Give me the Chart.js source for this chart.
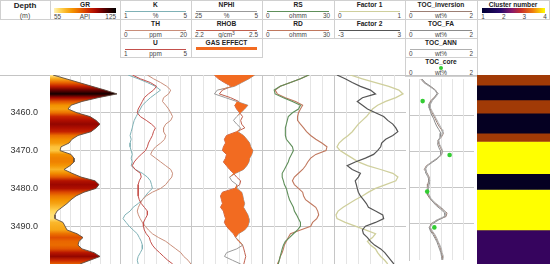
<!DOCTYPE html>
<html><head><meta charset="utf-8">
<script src="https://cdn.jsdelivr.net/npm/chart.js@4.4.1/dist/chart.umd.min.js"></script>
<style>
html,body{margin:0;padding:0;background:#fff}
body{width:550px;height:265px;position:relative;overflow:hidden;font-family:"Liberation Sans",Arial,sans-serif;color:#222}
canvas{position:absolute;top:75px}
.t{position:absolute;white-space:nowrap;line-height:1;transform:translate(-50%,-50%)}
.b{font-weight:bold;font-size:6.6px;color:#222}
.s{font-size:6.4px;color:#444}
.box{position:absolute;border:1px solid #d0d0d0;box-sizing:border-box}
.ln{position:absolute}
sup{font-size:5px;vertical-align:2px}
</style></head><body>
<div id="hdr"></div>
<canvas id="cGR" width="120" height="189" style="left:0px"></canvas>
<canvas id="cK" width="72" height="189" style="left:120px"></canvas>
<canvas id="cN" width="72" height="189" style="left:191px"></canvas>
<canvas id="cR" width="73" height="189" style="left:262px"></canvas>
<canvas id="cF" width="72" height="189" style="left:334px"></canvas>
<canvas id="cT" width="73" height="189" style="left:405px"></canvas>
<canvas id="cC" width="73" height="189" style="left:477px"></canvas>
<script>
// ---------------- data ----------------
const DEPTH = [3450,3451,3452,3453,3454,3455,3456,3457,3458,3459,3460,3461,3462,3463,3464,3465,3466,3467,3468,3469,3470,3471,3472,3473,3474,3475,3476,3477,3478,3479,3480,3481,3482,3483,3484,3485,3486,3487,3488,3489,3490,3491,3492,3493,3494,3495,3496,3497,3498,3499,3500];
const DEPTH_TICKS = [3460,3470,3480,3490];
const GR = [58,71,84,97,110,122,103,87,76,73,82,95,101,105,101,96,83,77,74,66,65,76,79,79,75,69,77,86,100,104,101,89,81,76,72,67,62,60,60,68,70,72,82,88,84,83,87,99,105,95,85];
const K = [1.45,2.01,2.52,2.97,3.25,2.97,2.69,2.46,2.24,2.13,2.01,1.90,1.79,1.73,1.68,1.62,1.56,1.62,1.56,1.56,1.62,1.68,1.62,1.68,1.62,1.85,2.24,2.52,2.69,2.75,2.80,2.58,2.41,2.24,2.01,1.73,1.56,1.28,1.17,1.34,1.51,1.73,1.96,2.07,2.18,2.24,2.24,2.13,2.01,1.96,2.01];
const TH = [7.6,9.3,11.3,13.0,14.1,13.5,12.1,11.8,12.7,13.5,14.1,14.6,14.1,12.7,12.1,12.1,12.7,12.4,11.3,9.9,9.0,8.5,9.9,11.3,12.7,14.1,14.6,14.4,13.5,12.7,11.3,9.0,7.3,6.2,5.6,5.1,4.8,5.1,5.6,6.2,7.0,7.9,9.0,10.7,12.7,14.1,15.5,16.9,17.7,18.9,19.7];
const U = [1.68,2.13,2.69,3.03,2.86,2.58,2.35,2.24,2.13,2.01,1.96,2.13,2.46,2.75,2.97,2.86,2.80,2.69,2.58,2.52,2.41,2.18,1.96,1.79,1.68,1.85,2.13,2.18,2.07,2.01,2.01,2.01,2.01,2.07,2.18,2.35,2.52,2.52,2.41,2.30,2.30,2.35,2.46,2.63,2.69,2.80,2.97,3.20,3.42,3.65,3.93];
const NPHI = [7.3,8.9,10.9,12.9,17.7,18.5,15.4,12.3,9.2,10.1,11.2,12.3,13.2,12.3,11.2,12.0,10.4,9.5,8.7,8.4,7.8,8.1,8.7,8.9,9.5,10.4,12.6,14.3,13.7,12.3,12.3,10.9,10.6,10.4,10.1,10.4,9.8,9.2,8.9,8.9,9.2,10.1,11.8,12.6,11.5,10.6,12.3,15.1,15.7,13.5,11.2];
const RHOB = [2.297,2.314,2.339,2.369,2.331,2.318,2.365,2.399,2.382,2.390,2.403,2.415,2.407,2.411,2.424,2.390,2.348,2.339,2.344,2.335,2.331,2.348,2.344,2.335,2.348,2.361,2.377,2.390,2.407,2.403,2.382,2.331,2.323,2.327,2.331,2.323,2.335,2.339,2.344,2.339,2.348,2.361,2.377,2.386,2.399,2.415,2.420,2.424,2.428,2.424,2.420];
const RS = [19.2,15.8,11.7,7.5,5.0,5.4,8.8,12.5,15.8,15.0,12.5,10.8,10.4,10.0,9.6,9.6,9.6,10.0,11.3,12.5,12.9,12.1,11.3,10.8,10.0,9.2,8.3,8.3,8.8,9.2,10.0,10.4,10.8,11.3,12.1,12.9,13.3,14.2,15.0,15.8,15.8,14.6,12.9,11.3,9.6,8.8,8.3,7.9,7.5,7.1,6.7];
const RD = [19.2,15.8,11.7,7.5,5.4,6.3,9.6,13.8,16.7,15.8,15.0,14.6,14.6,15.8,17.1,18.3,20.0,22.1,24.6,26.7,26.3,22.1,20.0,18.8,17.9,16.7,15.0,13.3,12.5,13.3,15.0,16.7,17.1,17.9,20.0,22.1,22.9,23.3,22.5,20.8,20.0,15.8,11.7,10.8,10.0,9.2,8.8,8.3,7.5,7.1,6.3];
const FACTOR1 = [0.225,0.394,0.577,0.761,0.901,0.958,0.859,0.718,0.606,0.535,0.493,0.451,0.394,0.338,0.296,0.254,0.197,0.127,0.070,0.042,0.085,0.169,0.254,0.338,0.465,0.648,0.817,0.887,0.859,0.718,0.577,0.479,0.394,0.296,0.211,0.127,0.056,0.028,0.042,0.155,0.296,0.437,0.577,0.535,0.465,0.507,0.577,0.606,0.648,0.704,0.746];
const FACTOR2 = [-2.75,-2.07,-1.48,-0.80,0.04,0.46,-0.63,-1.06,-0.63,-0.21,0.46,1.14,1.48,1.90,2.15,2.32,1.90,1.31,0.97,0.89,0.63,0.30,-0.38,-1.23,-1.90,-1.48,-0.80,-0.97,-1.23,-1.14,-1.06,-0.97,-0.80,-0.55,-0.30,-0.13,0.46,1.06,1.14,0.46,-0.38,-0.63,-0.55,-0.21,0.04,0.38,0.89,1.23,1.48,1.73,1.99];
const TOC_INV = [0.36,0.47,0.64,0.81,0.89,0.78,0.67,0.61,0.64,0.69,0.75,0.81,0.86,0.92,1.00,1.06,1.00,0.89,0.92,0.97,1.03,1.00,0.86,0.69,0.53,0.47,0.56,0.61,0.61,0.58,0.56,0.56,0.58,0.64,0.75,0.89,1.03,1.17,1.14,0.86,0.67,0.64,0.69,0.78,0.83,0.89,0.94,0.97,1.00,1.03,1.03];
const TOC_FA = [0.40,0.50,0.66,0.80,0.86,0.80,0.70,0.64,0.62,0.66,0.70,0.76,0.80,0.85,0.92,0.98,0.96,0.90,0.88,0.92,0.98,0.97,0.88,0.72,0.56,0.50,0.52,0.58,0.62,0.62,0.60,0.58,0.60,0.66,0.74,0.84,0.98,1.10,1.10,0.90,0.72,0.62,0.66,0.74,0.80,0.86,0.90,0.94,0.98,1.00,1.02];
const TOC_ANN = [0.38,0.45,0.62,0.78,0.90,0.82,0.72,0.66,0.66,0.72,0.78,0.84,0.90,0.96,1.02,1.04,0.98,0.92,0.94,1.00,1.04,0.98,0.84,0.68,0.55,0.49,0.54,0.60,0.64,0.60,0.58,0.58,0.62,0.68,0.78,0.92,1.06,1.14,1.08,0.84,0.70,0.66,0.72,0.80,0.86,0.90,0.96,1.00,1.02,1.06,1.04];
const CORE_DEPTH = [3456.1,3471.0,3481.1,3491.0];
const TOC_CORE = [0.42,1.25,0.56,0.78];
const CLUSTER_TOP  = [3450,3452.7,3456.6,3460.1,3465.4,3467.6,3476.1,3480.3,3491.0];
const CLUSTER_BASE = [3452.7,3456.6,3460.1,3465.4,3467.6,3476.1,3480.3,3491.0,3500];
const CLUSTER_ID   = [3,1,3,1,3,4,1,4,2];
const CLUSTER_TICKS = [1,2,3,4];
// axis ranges (header scale labels)
const GR_RANGE=[55,125], K_RANGE=[1,5], TH_RANGE=[0,20], U_RANGE=[1,5], NPHI_RANGE=[25,5], RHOB_RANGE=[2.2,2.5];
const RS_RANGE=[0,30], RD_RANGE=[0,30], F1_RANGE=[0,1], F2_RANGE=[-3,3], TOC_RANGE=[0,2];

// ---------------- styles ----------------
const COL = {K:'#7fb1b6',TH:'#c98e7a',U:'#c4504c',NPHI:'#9a9a9a',RHOB:'#c0604e',RS:'#5f8f5a',RD:'#c0785e',
  F1:'#cfcf9c',F2:'#555555',TINV:'#9c7f74',TFA:'#8c8c8c',TANN:'#b0b0b0',CORE:'#33cc33',GAS:'#f26b21'};
const CLUSTER_COLORS = {1:'#050022',2:'#36045e',3:'#a13a06',4:'#ffff00'};
const GR_STOPS = [[0,'#fff4b8'],[0.1,'#ffd659'],[0.2,'#f9b224'],[0.3,'#f39200'],[0.42,'#e86400'],[0.55,'#d02c00'],[0.68,'#a80800'],[0.8,'#600000'],[0.9,'#2c0000'],[1,'#000000']];

function hex(c){return [1,3,5].map(i=>parseInt(c.substr(i,2),16));}
function grColor(v){
  let t=(v-GR_RANGE[0])/(GR_RANGE[1]-GR_RANGE[0]); t=Math.max(0,Math.min(1,t));
  for(let i=1;i<GR_STOPS.length;i++){
    if(t<=GR_STOPS[i][0]){
      const a=GR_STOPS[i-1],b=GR_STOPS[i],f=(t-a[0])/(b[0]-a[0]);
      const ca=hex(a[1]),cb=hex(b[1]);
      return 'rgb('+ca.map((x,j)=>Math.round(x+(cb[j]-x)*f)).join(',')+')';
    }
  }
  return '#000';
}

// ---------------- header ----------------
const hdr=document.getElementById('hdr');
function el(cls,css,html){const d=document.createElement('div');d.className=cls;Object.assign(d.style,css);if(html!==undefined)d.innerHTML=html;hdr.appendChild(d);return d;}
function txt(html,x,y,cls,al){const d=el('t '+cls,{left:x+'px',top:y+'px'},html);
  if(al==='l')d.style.transform='translate(0,-50%)';if(al==='r')d.style.transform='translate(-100%,-50%)';return d;}
const ROW_H=19;
function cell(x,w,row,title,color,range,unit,opt){
  const top=row*ROW_H;
  el('box',{left:x+'px',top:top+'px',width:(w+1)+'px',height:(ROW_H+1)+'px'});
  txt(title,x+w/2,top+5,'b');
  if(opt==='dot'){el('ln',{left:(x+w/2-2)+'px',top:(top+9)+'px',width:'4px',height:'4px',background:color,borderRadius:'50%'});}
  else if(opt==='bar'){el('ln',{left:(x+5)+'px',top:(top+9)+'px',width:(w-10)+'px',height:'3px',background:color});return;}
  else el('ln',{left:(x+5)+'px',top:(top+10.5)+'px',width:(w-10)+'px',height:'1.3px',background:color});
  txt(String(range[0]),x+4,top+15.5,'s','l');txt(unit,x+w/2,top+15.5,'s');txt(String(range[1]),x+w-4,top+15.5,'s','r');
}
// depth + GR
el('box',{left:'0px',top:'0px',width:'51px',height:'20px'});
txt('Depth',25,6,'b').style.fontSize='8px';
txt('(m)',25,15,'s').style.fontSize='7px';
el('box',{left:'50px',top:'0px',width:'71px',height:'20px'});
txt('GR',85,4.5,'b');
el('ln',{left:'54px',top:'8px',width:'62px',height:'5px',background:'linear-gradient(to right,'+GR_STOPS.map(s=>s[1]+' '+(s[0]*100)+'%').join(',')+')'});
txt(String(GR_RANGE[0]),54,16.5,'s','l');txt('API',85,16.5,'s');txt(String(GR_RANGE[1]),116,16.5,'s','r');
// K/TH/U
cell(120,71,0,'K',COL.K,K_RANGE,'%');
cell(120,71,1,'TH',COL.TH,TH_RANGE,'ppm');
cell(120,71,2,'U',COL.U,U_RANGE,'ppm');
// NPHI/RHOB
cell(191,71,0,'NPHI',COL.NPHI,NPHI_RANGE,'%');
cell(191,71,1,'RHOB',COL.RHOB,RHOB_RANGE,'g/cm<sup>3</sup>');
cell(191,71,2,'GAS EFFECT',COL.GAS,null,null,'bar');
// RS/RD
cell(262,72,0,'RS',COL.RS,RS_RANGE,'ohmm');
cell(262,72,1,'RD',COL.RD,RD_RANGE,'ohmm');
// factors
cell(334,71,0,'Factor 1',COL.F1,F1_RANGE,'');
cell(334,71,1,'Factor 2',COL.F2,F2_RANGE,'');
// TOC
cell(405,72,0,'TOC_inversion',COL.TINV,TOC_RANGE,'wt%');
cell(405,72,1,'TOC_FA',COL.TFA,TOC_RANGE,'wt%');
cell(405,72,2,'TOC_ANN',COL.TANN,TOC_RANGE,'wt%');
cell(405,72,3,'TOC_core',COL.CORE,TOC_RANGE,'wt%','dot');
// cluster
el('box',{left:'477px',top:'0px',width:'73px',height:'20px'});
txt('Cluster number',513,4.5,'b');
el('ln',{left:'482px',top:'8px',width:'63px',height:'5px',background:'linear-gradient(to right,#000033 0%,#2a0a6e 30%,#8a1a6a 48%,#c8302a 62%,#ee7a10 80%,#ffff00 100%)'});
CLUSTER_TICKS.forEach((v,i)=>txt(String(v),483+i*20.7,16.5,'s'));
// top line of data area
el('ln',{left:'0px',top:'74.5px',width:'550px',height:'1px',background:'#c4c4c4'});

// ---------------- charts ----------------
Chart.defaults.font.family='"Liberation Sans", Arial, sans-serif';
function depthScale(labels){
  return {type:'linear',axis:'y',min:3450,max:3500,reverse:true,
    afterBuildTicks:s=>{s.ticks=DEPTH_TICKS.map(v=>({value:v}));},
    afterFit:s=>{s.width=labels?50:0;s.paddingTop=0;s.paddingBottom=0;},
    grid:{color:'#c6c6c6',lineWidth:1,drawTicks:false},
    border:{display:true,color:'#c6c6c6'},
    ticks:{display:labels,padding:12,color:'#333',font:{size:9},callback:v=>Number(v).toFixed(1)}};
}
function gridScale(n){
  return {type:'linear',axis:'x',position:'top',min:0,max:n,
    afterBuildTicks:s=>{const t=[];for(let i=1;i<n;i++)t.push({value:i});s.ticks=t;},
    afterFit:s=>{s.height=0;s.paddingLeft=0;s.paddingRight=0;},
    grid:{color:'#e4e4e4',drawTicks:false},border:{display:false},ticks:{display:false}};
}
function valScale(r){const rev=r[0]>r[1];return {type:'linear',axis:'x',display:false,min:Math.min(r[0],r[1]),max:Math.max(r[0],r[1]),reverse:rev};}
function curve(vals,axis,color,w,extra){
  return Object.assign({data:DEPTH.map((d,i)=>({x:vals[i],y:d})),xAxisID:axis,yAxisID:'y',borderColor:color,
    borderWidth:w||1,pointRadius:0,fill:false,tension:0},extra||{});
}
function mk(id,datasets,scales,labels,n,type){
  const s=Object.assign({y:depthScale(labels),g:gridScale(n)},scales);
  return new Chart(document.getElementById(id),{type:type||'line',data:{labels:type==='bar'?['c']:undefined,datasets},
    options:{indexAxis:type==='bar'?'x':'y',responsive:false,animation:false,devicePixelRatio:1,events:[],
      layout:{padding:0},plugins:{legend:{display:false},tooltip:{enabled:false}},scales:s}});
}
// GR
mk('cGR',[curve(GR,'xg','#5a4a40',0.9,{fill:{value:GR_RANGE[0]},
  backgroundColor:(ctx)=>{const ch=ctx.chart,a=ch.chartArea;if(!a)return 'rgba(0,0,0,0)';
    const ys=ch.scales.y;const g=ch.ctx.createLinearGradient(0,a.top,0,a.bottom);
    DEPTH.forEach((d,i)=>{const o=(ys.getPixelForValue(d)-a.top)/(a.bottom-a.top);g.addColorStop(Math.max(0,Math.min(1,o)),grColor(GR[i]));});
    return g;}})],{xg:valScale(GR_RANGE)},true,7);
// K TH U
mk('cK',[curve(U,'xu',COL.U,1),curve(TH,'xt',COL.TH,1),curve(K,'xk',COL.K,1)],
  {xk:valScale(K_RANGE),xt:valScale(TH_RANGE),xu:valScale(U_RANGE)},false,6);
// NPHI RHOB gas: orange where RHOB plots left of NPHI (crossover)
const RHOB_AS_NPHI = RHOB.map(r=>NPHI_RANGE[0]+(r-RHOB_RANGE[0])/(RHOB_RANGE[1]-RHOB_RANGE[0])*(NPHI_RANGE[1]-NPHI_RANGE[0]));
const GAS_EDGE = NPHI.map((n,i)=>Math.max(n,RHOB_AS_NPHI[i]));
mk('cN',[curve(GAS_EDGE,'xn','rgba(0,0,0,0)',1,{fill:'+1',backgroundColor:COL.GAS}),
  curve(NPHI,'xn',COL.NPHI,1),curve(RHOB,'xr',COL.RHOB,1)],
  {xn:valScale(NPHI_RANGE),xr:valScale(RHOB_RANGE)},false,6);
// RS RD
mk('cR',[curve(RS,'xs',COL.RS,1.1),curve(RD,'xd',COL.RD,1.1)],{xs:valScale(RS_RANGE),xd:valScale(RD_RANGE)},false,6);
// Factors
mk('cF',[curve(FACTOR2,'x2',COL.F2,1.2),curve(FACTOR1,'x1',COL.F1,1.3)],{x1:valScale(F1_RANGE),x2:valScale(F2_RANGE)},false,6);
// TOC
mk('cT',[{data:CORE_DEPTH.map((d,i)=>({x:TOC_CORE[i],y:d})),xAxisID:'xt',yAxisID:'y',showLine:false,pointRadius:2.3,
    pointBackgroundColor:COL.CORE,pointBorderWidth:0,borderColor:COL.CORE},
  curve(TOC_ANN,'xt',COL.TANN,1),curve(TOC_FA,'xt',COL.TFA,1),curve(TOC_INV,'xt',COL.TINV,1)],
  {xt:valScale(TOC_RANGE)},false,6);
// Cluster
mk('cC',CLUSTER_ID.map((c,i)=>({data:[[CLUSTER_TOP[i],CLUSTER_BASE[i]]],backgroundColor:CLUSTER_COLORS[c],borderWidth:0,
    grouped:false,barPercentage:1,categoryPercentage:1,xAxisID:'x',yAxisID:'y'})),
  {x:{type:'category',display:false}},false,6,'bar');
</script></body></html>
